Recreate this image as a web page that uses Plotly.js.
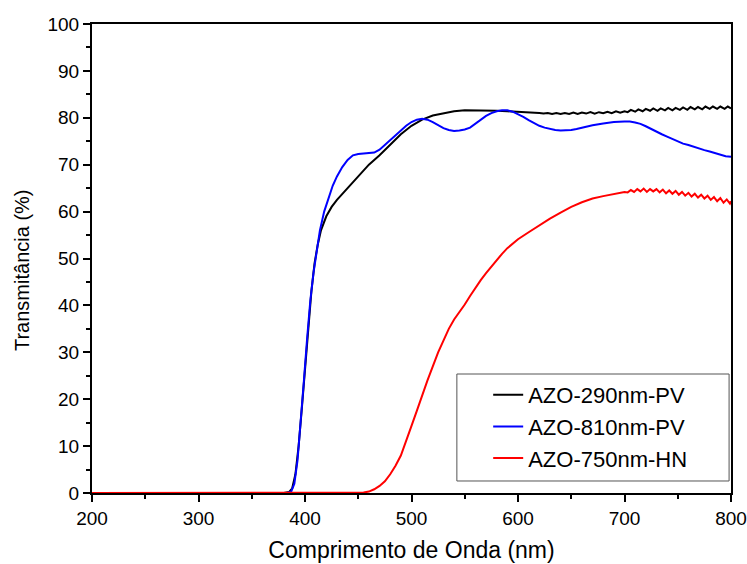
<!DOCTYPE html>
<html>
<head>
<meta charset="utf-8">
<script src="https://cdn.plot.ly/plotly-3.0.1.min.js"></script>
<style>html,body{margin:0;padding:0;background:#fff;}#chart{width:747px;height:564px;}</style>
</head>
<body>
<div id="chart"></div>
<script>
// Series names
const seriesNames = ["AZO-290nm-PV", "AZO-810nm-PV", "AZO-750nm-HN"];

// AZO-290nm-PV
const wl290 = [200,380,385,388,391,394,397,400,403,406,409,412,415,420,425,430,440,450,460,470,480,490,500,510,520,530,540,550,560,570,580,590,600,610,620,
  624,628,632,636,640,644,648,652,656,660,664,668,672,676,680,684,688,692,696,700,
  703,706,710,713,717,720,724,727,731,734,738,741,745,748,752,755,759,762,766,769,773,776,780,783,787,790,794,797,800];
const t290 = [0,0,0.2,1,4,10,18,27,36,43,49,53,56,59,61,62.5,65,67.5,70,72,74.3,76.5,78.3,79.6,80.5,81,81.4,81.6,81.6,81.6,81.5,81.4,81.3,81.1,81.0,
  80.9,81.0,80.8,81.0,80.8,81.0,80.8,81.1,80.8,81.1,80.9,81.2,80.9,81.2,81.0,81.3,81.0,81.4,81.1,81.4,
  81.2,81.7,81.3,81.8,81.4,81.9,81.5,82.0,81.5,82.0,81.6,82.1,81.6,82.1,81.7,82.2,81.7,82.3,81.8,82.3,81.8,82.4,81.9,82.4,81.9,82.4,81.9,82.4,82.0];

// AZO-810nm-PV
const wl810 = [200,383,387,390,393,396,399,402,405,408,411,414,418,422,426,430,435,440,445,450,455,460,465,470,475,480,485,490,495,500,505,510,515,520,525,530,535,540,545,550,555,560,565,570,575,580,585,590,595,600,605,610,615,620,625,630,635,640,645,650,655,660,670,680,690,700,705,710,715,720,725,730,735,740,745,750,755,760,765,770,775,780,785,790,795,800];
const t810 = [0,0,0.3,2,7,15,24,33,41,47,52,56,60,63,65.5,67.5,69.5,71,72,72.3,72.4,72.4,72.6,73.2,74.2,75.3,76.4,77.4,78.3,79.1,79.6,79.8,79.6,79.1,78.4,77.8,77.4,77.2,77.3,77.5,77.9,78.7,79.6,80.4,81.0,81.4,81.6,81.6,81.3,80.8,80.2,79.5,78.9,78.3,77.9,77.6,77.4,77.3,77.3,77.4,77.6,77.9,78.4,78.8,79.1,79.2,79.2,79.0,78.7,78.2,77.6,77.0,76.5,76.0,75.5,75.0,74.5,74.2,73.8,73.4,73.1,72.8,72.5,72.2,71.8,71.7];

// AZO-750nm-HN
const wl750 = [200,450,455,460,465,470,475,480,485,490,495,500,505,510,515,520,525,530,535,540,545,550,555,560,565,570,575,580,585,590,595,600,610,620,630,640,650,660,670,680,690,700,
  703,706,709,712,715,718,721,724,727,730,733,736,739,742,745,748,751,754,757,760,763,766,769,772,775,778,781,784,787,790,793,796,799,800];
const t750 = [0,0,0.1,0.3,0.8,1.5,2.5,4,5.8,8,11,14.3,17.5,21,24,27,30,32.5,35,37,38.5,40.2,42,43.8,45.4,46.9,48.3,49.7,51,52.2,53.2,54.1,55.6,57.1,58.5,59.8,61,62,62.8,63.3,63.8,64.2,
  64.1,64.6,64.2,64.8,64.3,64.9,64.2,64.8,64.3,64.8,64.1,64.7,63.9,64.5,63.8,64.4,63.6,64.2,63.4,64.0,63.2,63.8,63.0,63.6,62.8,63.4,62.5,63.1,62.2,62.9,61.9,62.6,61.7,62.2];

// Axis ticks
const xTicks = [200,300,400,500,600,700,800];
const yTicks = [0,10,20,30,40,50,60,70,80,90,100];

const colors = ["#000000", "#0000ff", "#ff0000"];
const xs = [wl290, wl810, wl750];
const ys = [t290, t810, t750];

const traces = seriesNames.map((n, i) => ({
  x: xs[i], y: ys[i], name: n, type: "scatter", mode: "lines",
  line: {color: colors[i], width: 2}
}));

const font = {family: 'Arial, "Liberation Sans", sans-serif', color: "#000"};

const layout = {
  width: 747, height: 564,
  margin: {l: 92, r: 16, t: 24, b: 71},
  paper_bgcolor: "#fff", plot_bgcolor: "#fff",
  font: Object.assign({size: 19}, font),
  showlegend: true,
  legend: {
    x: 0.620, y: 0.2537, xanchor: "left", yanchor: "top",
    bgcolor: "rgba(0,0,0,0)", borderwidth: 0,
    font: Object.assign({size: 22}, font),
    tracegroupgap: 0, itemwidth: 30
  },
  shapes: [{
    type: "rect", xref: "paper", yref: "paper",
    x0: 0.571, x1: 0.997, y0: 0.0256, y1: 0.2537,
    line: {color: "#555", width: 1}, fillcolor: "rgba(255,255,255,1)", layer: "above"
  }],
  annotations: [{
    text: "Transmitância (%)", xref: "paper", yref: "paper",
    x: -0.1095, y: 0.4755, xanchor: "center", yanchor: "middle",
    textangle: -90, showarrow: false, font: Object.assign({size: 20}, font)
  }],
  xaxis: {
    range: [200, 800], tickvals: xTicks, ticktext: xTicks.map(String),
    showline: true, linecolor: "#000", linewidth: 2, mirror: true,
    ticks: "outside", ticklen: 7, tickwidth: 2, tickcolor: "#000",
    minor: {dtick: 50, tick0: 200, ticks: "outside", ticklen: 4, tickwidth: 2, tickcolor: "#000", showgrid: false},
    showgrid: false, zeroline: false, ticklabeloverflow: "allow",
    tickfont: Object.assign({size: 19}, font),
    title: {text: "Comprimento de Onda (nm)", font: Object.assign({size: 23}, font), standoff: 14}
  },
  yaxis: {
    range: [0, 100], tickvals: yTicks, ticktext: yTicks.map(String),
    showline: true, linecolor: "#000", linewidth: 2, mirror: true,
    ticks: "outside", ticklen: 7, tickwidth: 2, tickcolor: "#000",
    minor: {dtick: 5, tick0: 0, ticks: "outside", ticklen: 4, tickwidth: 2, tickcolor: "#000", showgrid: false},
    showgrid: false, zeroline: false, ticklabeloverflow: "allow",
    tickfont: Object.assign({size: 19}, font)
  }
};

Plotly.newPlot("chart", traces, layout, {displayModeBar: false, staticPlot: true});
</script>
</body>
</html>
